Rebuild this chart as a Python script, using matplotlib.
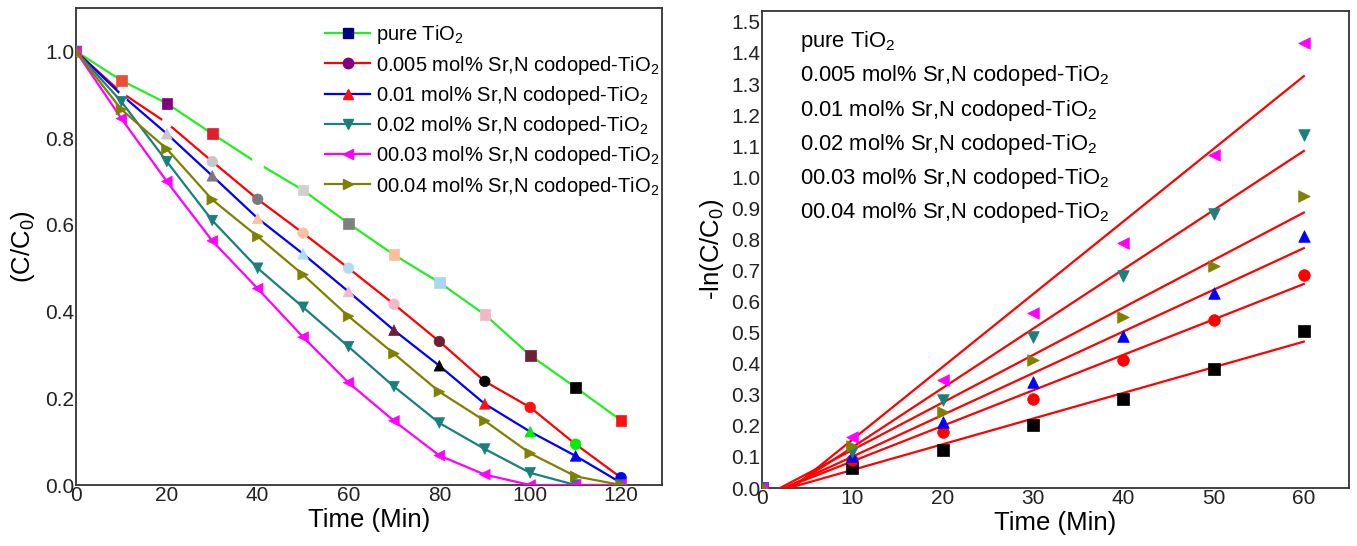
import numpy as np
import matplotlib
matplotlib.use("Agg")
import matplotlib.pyplot as plt
from matplotlib.lines import Line2D

plt.rcParams['font.family'] = ['Liberation Sans', 'DejaVu Sans']
plt.rcParams['mathtext.default'] = 'regular'

# ---- datos: degradación C/C0 vs tiempo ----
t_deg = [0, 10, 20, 30, 40, 50, 60, 70, 80, 90, 100, 110, 120]
labels = ["pure TiO$_2$",
          "0.005 mol% Sr,N codoped-TiO$_2$",
          "0.01 mol% Sr,N codoped-TiO$_2$",
          "0.02 mol% Sr,N codoped-TiO$_2$",
          "00.03 mol% Sr,N codoped-TiO$_2$",
          "00.04 mol% Sr,N codoped-TiO$_2$"]

c_puro = [1.0, 0.933, 0.880, 0.810, 0.742, 0.680, 0.603, 0.531, 0.467, 0.393, 0.299, 0.225, 0.149]
c_0005 = [1.0, 0.905, 0.835, 0.746, 0.659, 0.581, 0.500, 0.417, 0.331, 0.239, 0.179, 0.094, 0.017]
c_001 = [1.0, 0.900, 0.810, 0.713, 0.615, 0.533, 0.446, 0.357, 0.275, 0.187, 0.123, 0.067, 0.005]
c_002 = [1.0, 0.884, 0.746, 0.610, 0.500, 0.410, 0.319, 0.227, 0.143, 0.083, 0.028, 0.0, 0.0]
c_003 = [1.0, 0.845, 0.700, 0.563, 0.453, 0.341, 0.236, 0.148, 0.068, 0.024, 0.0, 0.0, 0.0]
c_004 = [1.0, 0.866, 0.775, 0.658, 0.573, 0.485, 0.389, 0.303, 0.215, 0.148, 0.073, 0.020, 0.0]

# ---- datos: cinética -ln(C/C0) ----
t_cin = [0, 10, 20, 30, 40, 50, 60]
k_puro = [0.0, 0.065, 0.121, 0.204, 0.286, 0.383, 0.504]
k_0005 = [0.0, 0.090, 0.180, 0.288, 0.413, 0.541, 0.687]
k_001 = [0.0, 0.104, 0.212, 0.340, 0.490, 0.629, 0.810]
k_002 = [0.0, 0.116, 0.284, 0.485, 0.683, 0.882, 1.137]
k_003 = [0.0, 0.163, 0.348, 0.562, 0.788, 1.071, 1.432]
k_004 = [0.0, 0.135, 0.246, 0.411, 0.550, 0.714, 0.939]

# estilos
colores_linea = ['#22ee22', '#ff0000', '#0000ff', '#1a7f7f', '#ff00ff', '#808000']
marcadores = ['s', 'o', '^', 'v', '<', '>']
colores_leyenda = ['#000080', '#800080', '#ff1010', '#1a7f7f', '#ff00ff', '#808000']
colores_cin = ['#000000', '#ff0000', '#0000ff', '#1a7f7f', '#ff00ff', '#808000']

W = 'white'
marc_puro = ['#ff8c00', '#e8503a', '#800080', '#e0202a', W, '#d0d0d0', '#808080',
             '#fbc09a', '#a8d8f0', '#f2b8c8', '#6e2035', '#000000', '#ff1010']
marc_0005 = ['#ff8c00', W, W, '#c8c8c8', '#7a7a7a', '#f9c3a0', '#b0dcf0',
             '#f2bac8', '#6b2035', '#000000', '#ff1010', '#00ee00', '#0000ff']
marc_001 = ['#ff8c00', W, '#c8c8c8', '#7a7a7a', '#f9c3a0', '#b0dcf0', '#f2bac8',
            '#6b2035', '#000000', '#ff1010', '#00ee00', '#0000ff', '#00008b']
marc_otros = [['#1a7f7f'] * 13, ['#ff00ff'] * 13, ['#808000'] * 13]

series_deg = [c_puro, c_0005, c_001, c_002, c_003, c_004]
marc_deg = [marc_puro, marc_0005, marc_001] + marc_otros
series_cin = [k_puro, k_0005, k_001, k_002, k_003, k_004]

fig = plt.figure(figsize=(13.57, 5.46), dpi=100)
ax1 = fig.add_axes([0.056, 0.1117, 0.4318, 0.8736])
ax2 = fig.add_axes([0.5615, 0.1062, 0.4326, 0.8736])

# --- panel izquierdo ---
z = 2
for y, col, m, mc in zip(series_deg, colores_linea, marcadores, marc_deg):
    ax1.plot(t_deg, y, color=col, lw=1.6, zorder=z)
    ax1.scatter(t_deg, y, marker=m, c=mc, s=58, edgecolors=mc, linewidths=0.5, zorder=z + 0.5)
    z += 1

handles = [Line2D([], [], color=col, lw=1.6, marker=m, markersize=7.5,
                  markerfacecolor=mc, markeredgecolor=mc)
           for col, m, mc in zip(colores_linea, marcadores, colores_leyenda)]
ax1.legend(handles, labels, loc='upper left', bbox_to_anchor=(0.425, 0.968),
           frameon=False, fontsize=14.5, handlelength=2.25, handletextpad=0.3,
           labelspacing=0.36, borderpad=0, borderaxespad=0)

ax1.set_xlim(0, 129)
ax1.set_ylim(0, 1.1)
ax1.set_xticks(np.arange(0, 121, 20))
ax1.set_yticks(np.arange(0, 1.01, 0.2))
ax1.yaxis.set_major_formatter(matplotlib.ticker.FormatStrFormatter('%.1f'))
ax1.set_xlabel("Time (Min)", fontsize=18.5, labelpad=2)
ax1.set_ylabel("(C/C$_0$)", fontsize=18.5, labelpad=6)

# --- panel derecho ---
z = 2
x_fit = np.array([0, 60])
for y, col, m in zip(series_cin, colores_cin, marcadores):
    ax2.scatter(t_cin, y, marker=m, c=col, s=70, edgecolors=col, linewidths=0.5, zorder=z + 6)
    pend, inter = np.polyfit(t_cin, y, 1)
    ax2.plot(x_fit, pend * x_fit + inter, color='#ff0000', lw=1.6, zorder=z)
    z += 1

vacios = [Line2D([], [], linestyle='none') for _ in labels]
ax2.legend(vacios, labels, loc='upper left', bbox_to_anchor=(0.065, 0.962),
           frameon=False, fontsize=15.8, handlelength=0, handletextpad=0,
           labelspacing=0.42, borderpad=0, borderaxespad=0)

ax2.set_xlim(0, 65)
ax2.set_ylim(0, 1.535)
ax2.set_xticks(np.arange(0, 61, 10))
ax2.set_yticks(np.arange(0, 1.51, 0.1))
ax2.yaxis.set_major_formatter(matplotlib.ticker.FormatStrFormatter('%.1f'))
ax2.set_xlabel("Time (Min)", fontsize=18.5, labelpad=2)
ax2.set_ylabel("-ln(C/C$_0$)", fontsize=18.5, labelpad=4)

for ax in (ax1, ax2):
    for s in ax.spines.values():
        s.set_color('#333333')
        s.set_linewidth(1.3)
    ax.tick_params(length=0, labelsize=15, pad=1, colors='#222222')

fig.savefig("out.png", dpi=100)
